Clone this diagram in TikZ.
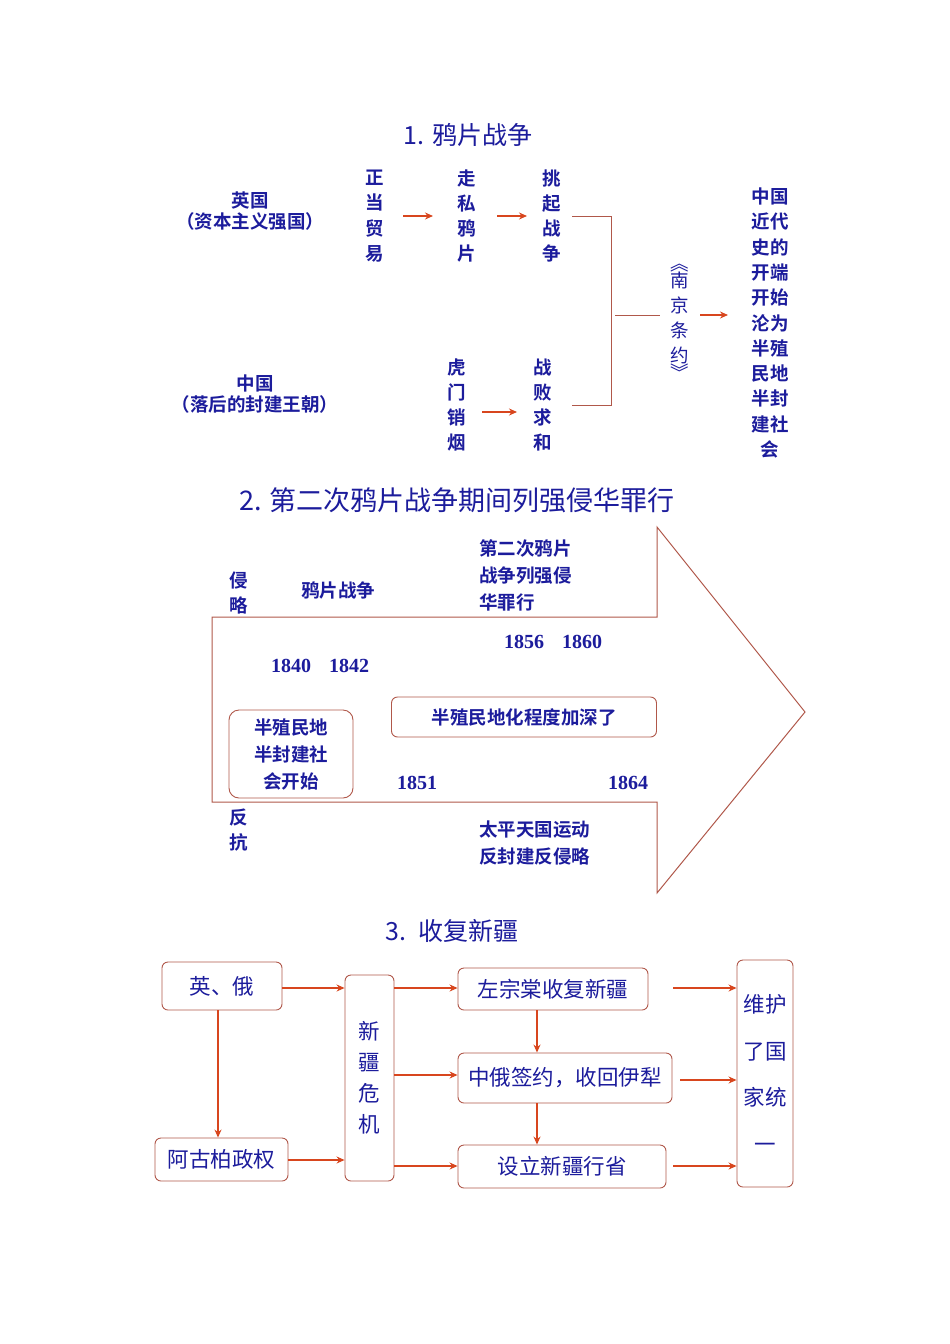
\documentclass[tikz,border=0pt]{standalone}
\usepackage{fontspec}
\setmainfont{Noto Sans CJK SC}
\newfontfamily\cjkb{Noto Sans CJK SC Bold}
\newfontfamily\numf{Liberation Serif}
\usetikzlibrary{arrows.meta}
\definecolor{tblue}{HTML}{1C1C9C}
\definecolor{bord}{HTML}{B0584A}
\definecolor{arr}{HTML}{D8461E}
\begin{document}
\begin{tikzpicture}[x=1pt,y=-1pt,
  t/.style={text=tblue,font=\cjkb\fontsize{18.5}{21}\selectfont,inner sep=0pt,align=center},
  tr/.style={text=tblue,font=\fontsize{21.5}{24}\selectfont,inner sep=0pt,align=center},
  ttl/.style={text=tblue,font=\fontsize{25}{28}\selectfont,inner sep=0pt},
  vcol/.style={t,font=\cjkb\fontsize{18.5}{25.3}\selectfont},
  yr/.style={t,font=\numf\bfseries\fontsize{20}{22}\selectfont},
  ra/.style={draw=arr,line width=1.6pt,-{Stealth[length=8pt,width=7pt]}},
  bl/.style={draw=bord,line width=0.9pt},
  bx/.style={draw=bord,line width=0.9pt,rounded corners=6pt,fill=white}]
\useasboundingbox (0,0) rectangle (950,1344);
\fill[white] (0,0) rectangle (950,1344);
% ---- section 1
\node[ttl] (t1) at (468,135) {1. 鸦片战争};
\node[t] (yg) at (250,211) {英国\\（资本主义强国）};
\node[t] (zg) at (255,394) {中国\\（落后的封建王朝）};
\node[vcol] (a1) at (375,216) {正\\当\\贸\\易};
\node[vcol] (a2) at (467,216) {走\\私\\鸦\\片};
\node[vcol] (a3) at (552,216) {挑\\起\\战\\争};
\node[vcol] (b1) at (457,405) {虎\\门\\销\\烟};
\node[vcol] (b2) at (543,405) {战\\败\\求\\和};
\node[vcol,font=\fontsize{18.5}{25}\selectfont] (nj) at (680,322) {︽\\[-8pt]南\\京\\条\\约\\[-8pt]︾};
\node[vcol] (res) at (770,323) {中国\\近代\\史的\\开端\\开始\\沦为\\半殖\\民地\\半封\\建社\\会};
\coordinate (p1) at (403,216); \coordinate (q1) at (433,216);
\coordinate (p2) at (497,216); \coordinate (q2) at (527,216);
\coordinate (p3) at (482,412); \coordinate (q3) at (517,412);
\coordinate (p4) at (700,315); \coordinate (q4) at (728,315);
\draw[ra] (p1) -- (q1); \draw[ra] (p2) -- (q2); \draw[ra] (p3) -- (q3); \draw[ra] (p4) -- (q4);
\coordinate (c1) at (572,216); \coordinate (c2) at (611,216);
\coordinate (c3) at (611,405); \coordinate (c4) at (572,405);
\coordinate (m1) at (615,315); \coordinate (m2) at (660,315);
\draw[bl] (c1) -- (c2) -- (c3) -- (c4);
\draw[bl] (m1) -- (m2);
% ---- section 2
\node[ttl,font=\fontsize{27}{30}\selectfont] (t2) at (457,500) {2. 第二次鸦片战争期间列强侵华罪行};
\draw[draw=bord,line width=1pt] (212,617) -- (657,617) -- (657,527) -- (805,712) -- (657,893) -- (657,802) -- (212,802) -- cycle;
\node[t] (qin) at (239,593) {侵\\[4pt]略};
\node[t] (fk) at (239,830) {反\\[4pt]抗};
\node[t] (ypzz) at (338,591) {鸦片战争};
\node[t,align=left,anchor=west,font=\cjkb\fontsize{18.5}{27}\selectfont] (d2) at (479,575) {第二次鸦片\\战争列强侵\\华罪行};
\node[yr] (y1) at (553,642) {1856\hspace{18pt}1860};
\node[yr] (y2) at (320,666) {1840\hspace{18pt}1842};
\node[yr] (y3) at (417,783) {1851};
\node[yr] (y4) at (628,783) {1864};
\node[bx,t,minimum width=265pt,minimum height=40pt] (deep) at (524,717) {半殖民地化程度加深了};
\node[bx,t,minimum width=124pt,minimum height=88pt,font=\cjkb\fontsize{18.5}{27}\selectfont,rounded corners=10pt] (semi) at (291,754) {半殖民地\\半封建社\\会开始};
\node[t,align=left,anchor=west,font=\cjkb\fontsize{18.5}{27}\selectfont] (tp) at (479,843) {太平天国运动\\反封建反侵略};
% ---- section 3
\node[ttl] (t3) at (452,931) {3.\ \ 收复新疆};
\node[bx,tr,minimum width=120pt,minimum height=48pt] (ye) at (222,986) {英、俄};
\node[bx,tr,minimum width=133pt,minimum height=43pt] (agb) at (221.5,1159.5) {阿古柏政权};
\node[bx,tr,minimum width=49pt,minimum height=206pt,font=\fontsize{21.5}{31}\selectfont] (wj) at (369.5,1078) {新\\疆\\危\\机};
\node[bx,tr,minimum width=190pt,minimum height=42pt] (zzt) at (553,989) {左宗棠收复新疆};
\node[bx,tr,minimum width=214pt,minimum height=50pt] (qy) at (565,1078) {中俄签约，收回伊犁};
\node[bx,tr,minimum width=208pt,minimum height=43pt] (sl) at (562,1166.5) {设立新疆行省};
\node[bx,tr,minimum width=56pt,minimum height=227pt,font=\fontsize{21.5}{46.5}\selectfont] (wh) at (765,1073.5) {维护\\了国\\家统\\一};
\draw[ra] (ye.east |- 0,988) -- (wj.west |- 0,988);
\draw[ra] (agb.east |- 0,1160) -- (wj.west |- 0,1160);
\draw[ra] (ye.south -| 218,0) -- (agb.north -| 218,0);
\draw[ra] (wj.east |- 0,988) -- (zzt.west |- 0,988);
\draw[ra] (wj.east |- 0,1075) -- (qy.west |- 0,1075);
\draw[ra] (wj.east |- 0,1166) -- (sl.west |- 0,1166);
\coordinate (e1) at (673,988); \coordinate (e2) at (680,1080); \coordinate (e3) at (673,1166);
\draw[ra] (e1) -- (wh.west |- e1);
\draw[ra] (e2) -- (wh.west |- e2);
\draw[ra] (e3) -- (wh.west |- e3);
\draw[ra] (zzt.south -| 537,0) -- (qy.north -| 537,0);
\draw[ra] (qy.south -| 537,0) -- (sl.north -| 537,0);
\end{tikzpicture}
\end{document}
